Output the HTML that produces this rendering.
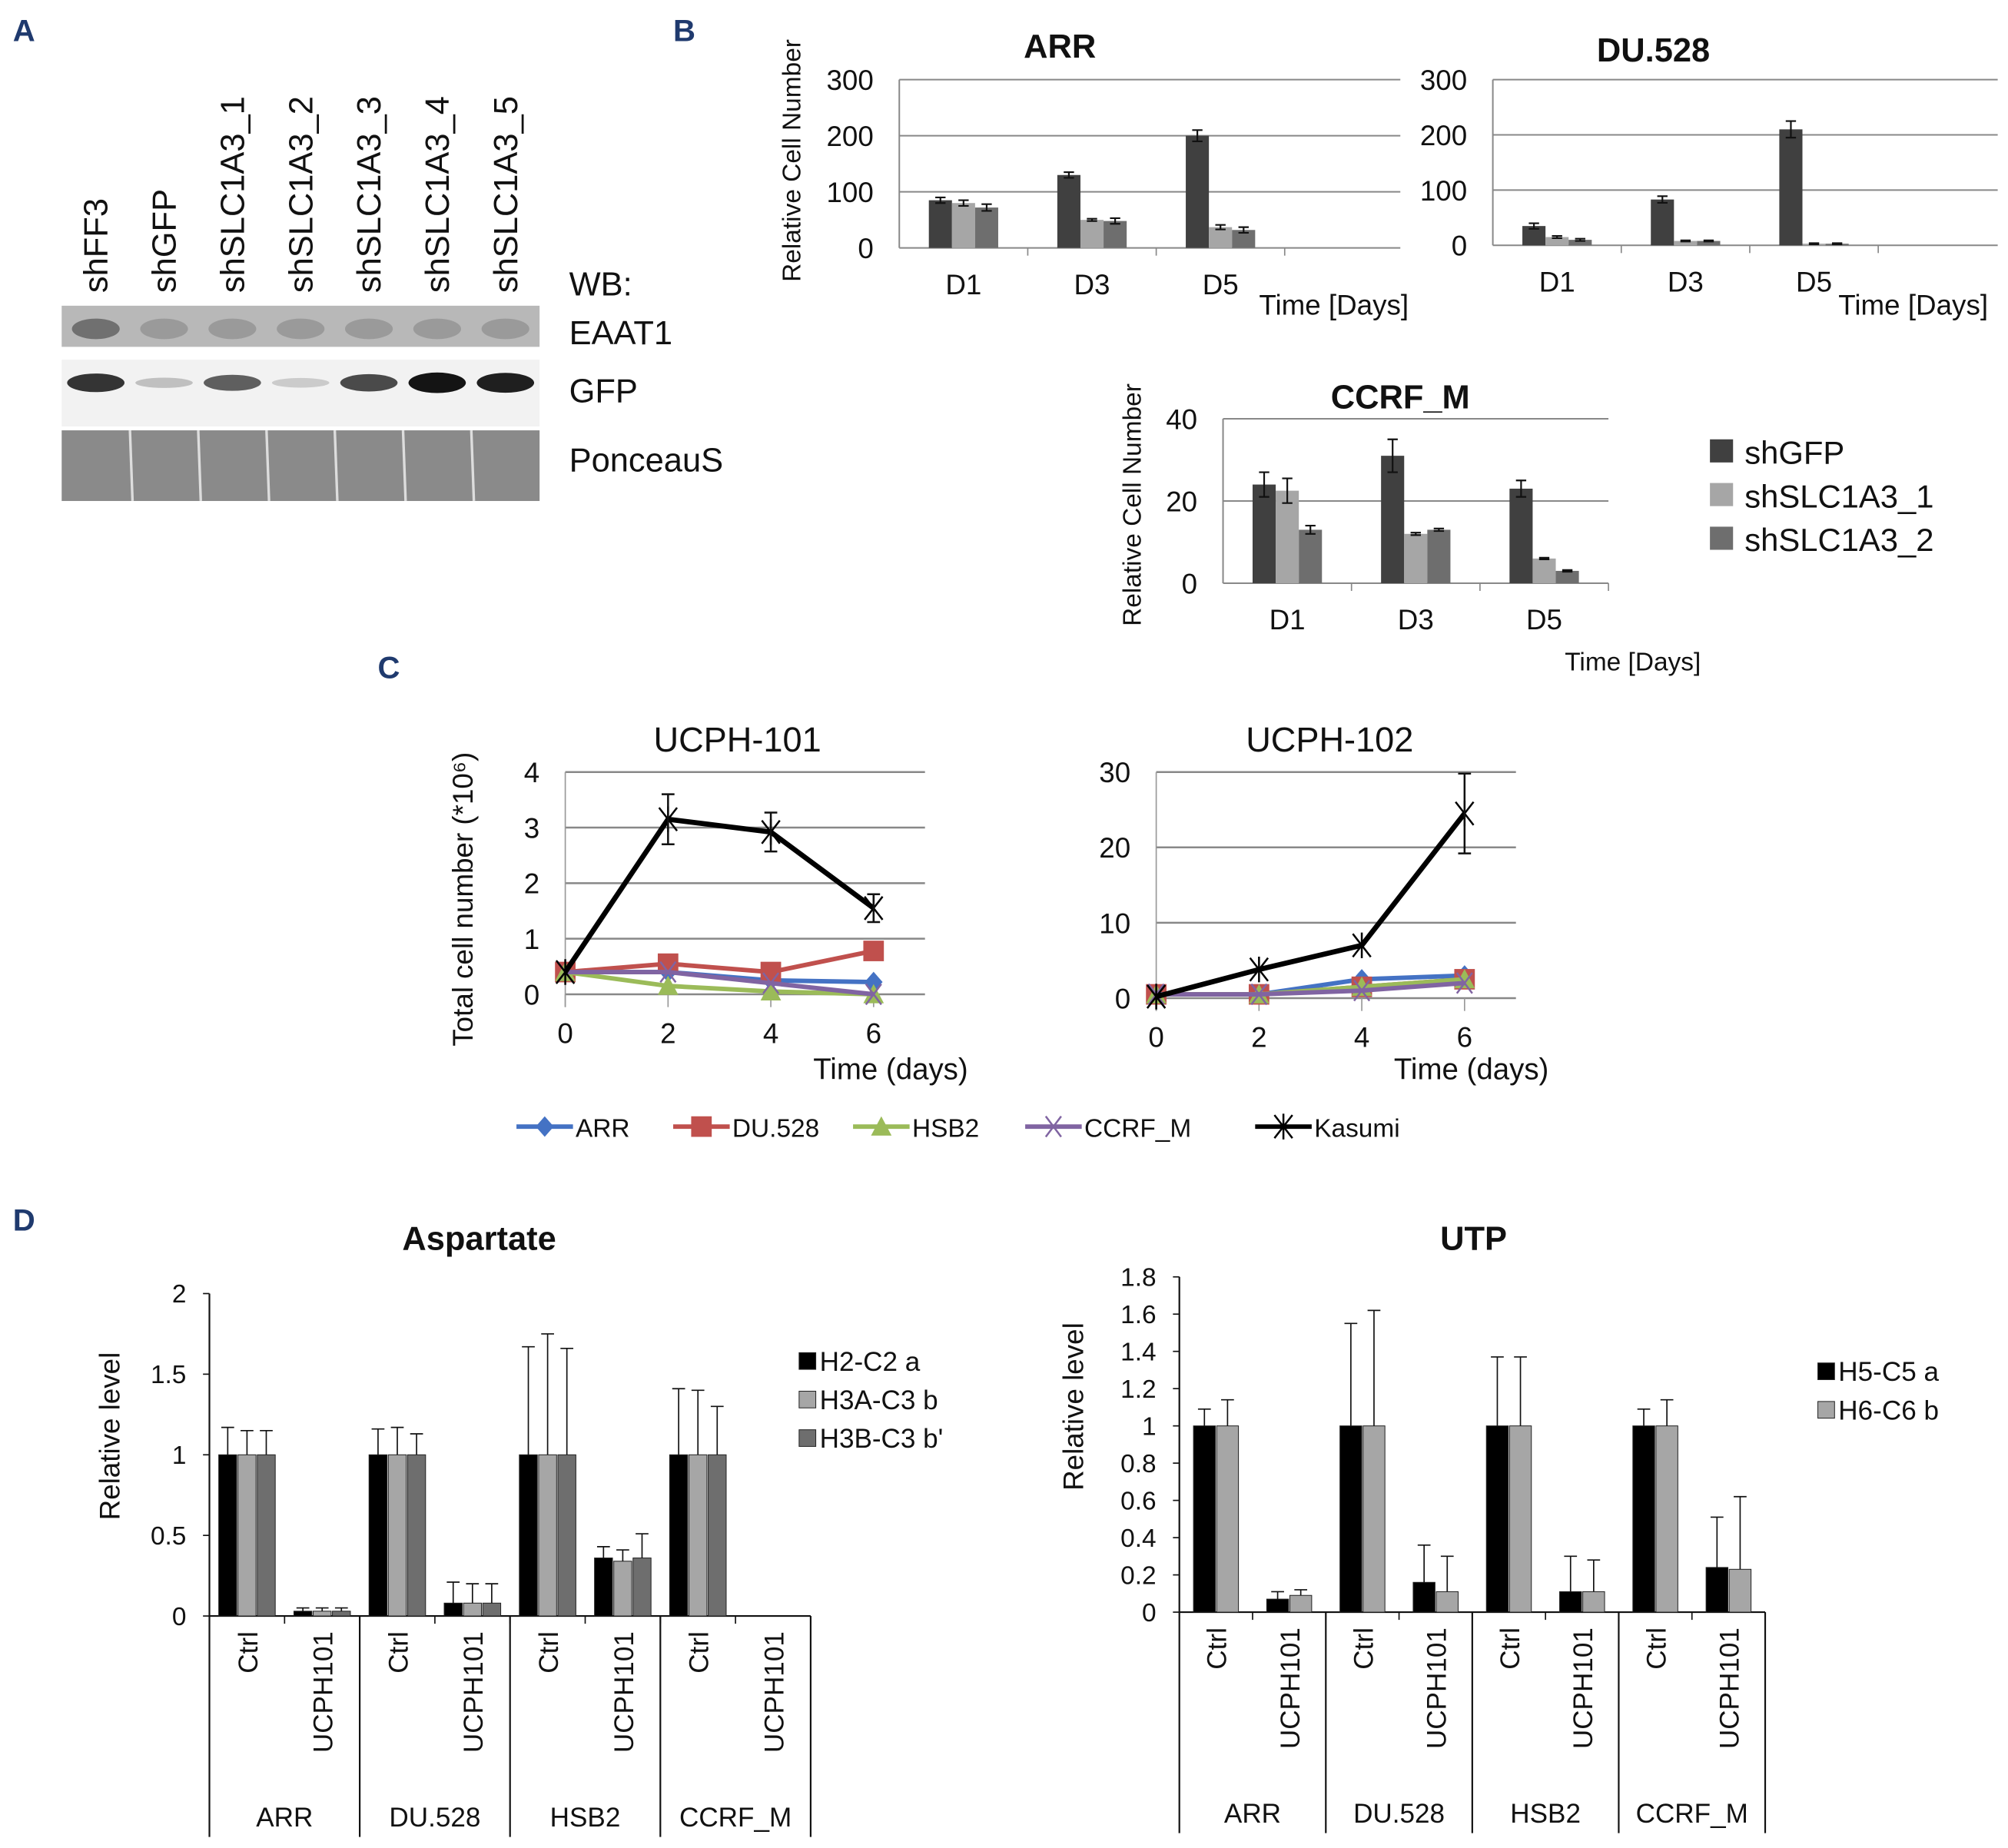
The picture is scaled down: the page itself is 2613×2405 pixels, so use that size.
<!DOCTYPE html>
<html><head><meta charset="utf-8"><style>
html,body{margin:0;padding:0;background:#fff}
svg{display:block}
text{font-family:"Liberation Sans",sans-serif;fill:#111}
</style></head><body>
<svg id="fig" width="2613" height="2405" viewBox="0 0 1563 1438.6" xmlns="http://www.w3.org/2000/svg">
<g font-weight="bold">
<text x="10" y="32" font-size="24" style="fill:#1f3a6e">A</text>
<text x="524" y="32" font-size="24" style="fill:#1f3a6e">B</text>
<text x="294" y="528" font-size="24" style="fill:#1f3a6e">C</text>
<text x="10" y="958" font-size="24" style="fill:#1f3a6e">D</text>
</g>
<g id="blot"></g>
<g id="panelB"></g>
<g id="panelC"></g>
<g id="panelD"></g>
</svg>
<script>
// ---- Panel A data
const laneLabels=["shFF3","shGFP","shSLC1A3_1","shSLC1A3_2","shSLC1A3_3","shSLC1A3_4","shSLC1A3_5"];
const gfpIntensity=[0.85,0.2,0.65,0.15,0.75,1,0.95];
// ---- Panel B data
const bCats=["D1","D3","D5"];
const bSeries=["shGFP","shSLC1A3_1","shSLC1A3_2"];
const arrVals=[[85,80,72],[130,50,48],[200,37,32]];
const arrErr=[[5,5,6],[5,2,5],[10,4,5]];
const duVals=[[35,15,10],[83,8,8],[210,3,3]];
const duErr=[[5,2,2],[6,1,1],[15,1,1]];
const ccrfVals=[[24,22.5,13],[31,12,13],[23,6,3]];
const ccrfErr=[[3,3,1],[4,0.3,0.3],[2,0.2,0.2]];
const bTicks300=[0,100,200,300];
const bTicks40=[0,20,40];
// ---- Panel C data
const cDays=[0,2,4,6];
const cNames=["ARR","DU.528","HSB2","CCRF_M","Kasumi"];
const c101=[[0.4,0.4,0.25,0.22],[0.4,0.55,0.4,0.78],[0.4,0.15,0.05,0],[0.4,0.4,0.2,0],[0.4,3.15,2.92,1.55]];
const c101KasErr=[0,0.45,0.35,0.25];
const c102=[[0.5,0.5,2.5,3],[0.5,0.5,1.5,2.5],[0.5,0.5,1.5,2.5],[0.5,0.5,1,2],[0.2,3.8,7,24.5]];
const c102KasErr=[0,0,0,5.3];
const c101Ticks=[0,1,2,3,4];
const c102Ticks=[0,10,20,30];
// ---- Panel D data
const dGroups=["ARR","DU.528","HSB2","CCRF_M"];
const dSub=["Ctrl","UCPH101"];
const aspSeries=["H2-C2 a","H3A-C3 b","H3B-C3 b'"];
const aspVals=[[[1,1,1],[0.03,0.03,0.03]],[[1,1,1],[0.08,0.08,0.08]],[[1,1,1],[0.36,0.34,0.36]],[[1,1,1],[0,0,0]]];
const aspErr=[[[0.17,0.15,0.15],[0.02,0.02,0.02]],[[0.16,0.17,0.13],[0.13,0.12,0.12]],[[0.67,0.75,0.66],[0.07,0.07,0.15]],[[0.41,0.4,0.3],[0,0,0]]];
const aspTicks=[0,0.5,1,1.5,2];
const utpSeries=["H5-C5 a","H6-C6 b"];
const utpVals=[[[1,1],[0.07,0.09]],[[1,1],[0.16,0.11]],[[1,1],[0.11,0.11]],[[1,1],[0.24,0.23]]];
const utpErr=[[[0.09,0.14],[0.04,0.03]],[[0.55,0.62],[0.2,0.19]],[[0.37,0.37],[0.19,0.17]],[[0.09,0.14],[0.27,0.39]]];
const utpTicks=[0,0.2,0.4,0.6,0.8,1,1.2,1.4,1.6,1.8];

const NS="http://www.w3.org/2000/svg";
function mk(p,tag,at,txt){const e=document.createElementNS(NS,tag);for(const k in at)e.setAttribute(k,at[k]);if(txt!==undefined)e.textContent=txt;p.appendChild(e);return e;}

// ---- Panel A
(function(){
const g=document.getElementById('blot');
const x0=48,x1=420,lw=(x1-x0)/laneLabels.length;
let s=mk(g,'rect',{x:x0,y:238,width:x1-x0,height:32,fill:'#b8b8b8'});

s=mk(g,'rect',{x:x0,y:280,width:x1-x0,height:52,fill:'#f2f2f2'});

s=mk(g,'rect',{x:x0,y:335,width:x1-x0,height:55,fill:'#8a8a8a'});

laneLabels.forEach((l,i)=>{
 const cx=x0+lw*(i+0.5);
 const t=mk(g,'text',{x:0,y:0,'font-size':26,transform:`translate(${cx+9},228) rotate(-90)`},l);
 
 const v=gfpIntensity[i];const c=Math.round(235-215*v);
 const b=mk(g,'ellipse',{cx:cx,cy:298,rx:lw*0.42,ry:3+5*v,fill:`rgb(${c},${c},${c})`});
 
 const e=mk(g,'ellipse',{cx:cx,cy:256,rx:lw*0.35,ry:8,fill:i==0?'#707070':'#9a9a9a'});
 
 if(i>0){const ln=mk(g,'line',{x1:x0+lw*i,x2:x0+lw*i+2,y1:335,y2:390,stroke:'#ddd','stroke-width':2});
 }
});
[["WB:",443,230],["EAAT1",443,268],["GFP",443,313],["PonceauS",443,367]].forEach(a=>{
 const t=mk(g,'text',{x:a[1],y:a[2],'font-size':26},a[0]);
 });
})();

// ---- Panel B
const bColors=['#404040','#a6a6a6','#6e6e6e'];
function barChartB(g,o){
 const sy=v=>o.y0-(v/o.ymax)*(o.y0-o.ytop);
 o.ticks.forEach(t=>{
  const l=mk(g,'line',{x1:o.x0,x2:o.x1,y1:sy(t),y2:sy(t),stroke:'#888','stroke-width':1.2});
  
  const tx=mk(g,'text',{x:o.x0-20,y:sy(t)+8,'font-size':22,'text-anchor':'end'},t);
  
 });
 const ax=mk(g,'line',{x1:o.x0,x2:o.x0,y1:o.ytop,y2:o.y0,stroke:'#888','stroke-width':1.2});
 
 const cw=o.cw;
 bCats.forEach((c,i)=>{
  const cx=o.x0+cw*(i+0.5);
  const tk=mk(g,'line',{x1:o.x0+cw*(i+1),x2:o.x0+cw*(i+1),y1:o.y0,y2:o.y0+6,stroke:'#888'});
  
  const t=mk(g,'text',{x:cx,y:o.y0+36,'font-size':22,'text-anchor':'middle'},c);
  
  o.vals[i].forEach((v,j)=>{
   const bx=cx-27+j*18;
   const r=mk(g,'rect',{x:bx,y:sy(v),width:18,height:o.y0-sy(v),fill:bColors[j]});
   
   const e=o.err[i][j],xm=bx+9;
   const p=mk(g,'path',{d:`M${xm},${sy(v+e)}V${sy(v-e)}M${xm-4},${sy(v+e)}H${xm+4}M${xm-4},${sy(v-e)}H${xm+4}`,stroke:'#111','stroke-width':1.3,fill:'none'});
   
  });
 });
 const ti=mk(g,'text',{x:o.tx,y:o.ty,'font-size':26,'font-weight':'bold','text-anchor':'middle'},o.title);
 
 const xt=mk(g,'text',{x:o.xlx,y:o.xly,'font-size':o.xfs||22},'Time [Days]');
 
 if(o.ylab){const yt=mk(g,'text',{x:0,y:0,'font-size':20,'text-anchor':'middle',transform:`translate(${o.ylx},${o.yly}) rotate(-90)`},'Relative Cell Number');
 }
}
(function(){
const P=document.getElementById('panelB');
const g1=mk(P,'g',{});
barChartB(g1,{x0:700,x1:1090,cw:100,y0:193,ytop:62,ymax:300,ticks:bTicks300,vals:arrVals,err:arrErr,title:'ARR',tx:825,ty:45,xlx:980,xly:245,ylab:true,ylx:623,yly:125});
const g2=mk(P,'g',{});
barChartB(g2,{x0:1162,x1:1555,cw:100,y0:191,ytop:62,ymax:300,ticks:bTicks300,vals:duVals,err:duErr,title:'DU.528',tx:1287,ty:48,xlx:1431,xly:245});
const g3=mk(P,'g',{});
barChartB(g3,{x0:952,x1:1252,cw:100,y0:454,ytop:326,ymax:40,ticks:bTicks40,vals:ccrfVals,err:ccrfErr,title:'CCRF_M',tx:1090,ty:318,xlx:1218,xly:522,xfs:20,ylab:true,ylx:888,yly:393});
bSeries.forEach((s,j)=>{
 const r=mk(P,'rect',{x:1331,y:342+j*34,width:18,height:18,fill:bColors[j]});
 
 const t=mk(P,'text',{x:1358,y:361+j*34,'font-size':25},s);
 
});
})();

// ---- Panel C
const cColors=['#4472c4','#c0504d','#9bbb59','#8064a2','#000000'];
function marker(g,k,x,y){
 const c=cColors[k];let e;
 if(k==0)e=mk(g,'path',{d:`M${x},${y-8}L${x+7},${y}L${x},${y+8}L${x-7},${y}Z`,fill:c});
 else if(k==1)e=mk(g,'rect',{x:x-8,y:y-8,width:16,height:16,fill:c});
 else if(k==2)e=mk(g,'path',{d:`M${x},${y-8}L${x+8},${y+7}L${x-8},${y+7}Z`,fill:c});
 else if(k==3)e=mk(g,'path',{d:`M${x-6},${y-8}L${x+6},${y+8}M${x+6},${y-8}L${x-6},${y+8}`,stroke:c,'stroke-width':1.5});
 else e=mk(g,'path',{d:`M${x-7},${y-9}L${x+7},${y+9}M${x+7},${y-9}L${x-7},${y+9}M${x},${y-10}V${y+10}`,stroke:c,'stroke-width':1.5});
 
}
function lineChart(g,o){
 const sx=d=>o.x0+(d/6)*(o.x6-o.x0), sy=v=>o.y0-(v/o.ymax)*(o.y0-o.ytop);
 o.ticks.forEach(t=>{
  const l=mk(g,'line',{x1:o.x0,x2:o.xr,y1:sy(t),y2:sy(t),stroke:'#888','stroke-width':1.5});
  
  const tx=mk(g,'text',{x:o.x0-20,y:sy(t)+8,'font-size':22,'text-anchor':'end'},t);
  
 });
 const ax=mk(g,'line',{x1:o.x0,x2:o.x0,y1:o.ytop,y2:o.y0+10,stroke:'#999'});
 
 cDays.forEach(d=>{
  const tk=mk(g,'line',{x1:sx(d),x2:sx(d),y1:o.y0,y2:o.y0+10,stroke:'#999'});
  
  const t=mk(g,'text',{x:sx(d),y:o.y0+38,'font-size':22,'text-anchor':'middle'},d);
  
 });
 o.data.forEach((ser,k)=>{
  const pl=mk(g,'polyline',{points:ser.map((v,i)=>sx(cDays[i])+','+sy(v)).join(' '),fill:'none',stroke:cColors[k],'stroke-width':k==4?4:3.5});
  
  ser.forEach((v,i)=>marker(g,k,sx(cDays[i]),sy(v)));
 });
 o.err.forEach((e,i)=>{ if(!e)return; const v=o.data[4][i],x=sx(cDays[i]);
  const p=mk(g,'path',{d:`M${x},${sy(v+e)}V${sy(v-e)}M${x-5},${sy(v+e)}H${x+5}M${x-5},${sy(v-e)}H${x+5}`,stroke:'#111','stroke-width':1.5,fill:'none'});
  });
 const ti=mk(g,'text',{x:o.tx,y:585,'font-size':27,'text-anchor':'middle'},o.title);
 
 const xt=mk(g,'text',{x:o.xlx,y:840,'font-size':23},'Time (days)');
 
}
(function(){
const P=document.getElementById('panelC');
const g1=mk(P,'g',{});
lineChart(g1,{x0:440,x6:680,xr:720,y0:774,ytop:601,ymax:4,ticks:c101Ticks,data:c101,err:c101KasErr,title:'UCPH-101',tx:574,xlx:633});
const g2=mk(P,'g',{});
lineChart(g2,{x0:900,x6:1140,xr:1180,y0:777,ytop:601,ymax:30,ticks:c102Ticks,data:c102,err:c102KasErr,title:'UCPH-102',tx:1035,xlx:1085});
const yt=mk(P,'text',{x:0,y:0,'font-size':22,'text-anchor':'middle',transform:'translate(368,700) rotate(-90)'},'Total cell number (*10⁶)');

const lx=[402,524,664,798,977];
cNames.forEach((n,k)=>{
 const l=mk(P,'line',{x1:lx[k],x2:lx[k]+44,y1:877,y2:877,stroke:cColors[k],'stroke-width':3.5});
 
 marker(P,k,lx[k]+22,877);
 const t=mk(P,'text',{x:lx[k]+46,y:885,'font-size':20},n);
 
});
})();

// ---- Panel D
function groupedChart(g,o){
 const sy=v=>o.y0-(v/o.ymax)*(o.y0-o.ytop);
 o.ticks.forEach(t=>{
  const tx=mk(g,'text',{x:o.x0-18,y:sy(t)+7,'font-size':20,'text-anchor':'end'},t);
  
  const tk=mk(g,'line',{x1:o.x0-5,x2:o.x0,y1:sy(t),y2:sy(t),stroke:'#111'});
  
 });
 const ax=mk(g,'path',{d:`M${o.x0},${o.ytop}V${o.y0}H${o.x1}`,stroke:'#111','stroke-width':1.3,fill:'none'});
 
 const gw=(o.x1-o.x0)/dGroups.length,nb=o.series.length;
 dGroups.forEach((gn,gi)=>{
  const gx=o.x0+gw*gi;
  const sep=mk(g,'line',{x1:gx+gw,x2:gx+gw,y1:o.y0,y2:o.ybot,stroke:'#111','stroke-width':1.3});
  
  if(gi==0){const s0=mk(g,'line',{x1:gx,x2:gx,y1:o.y0,y2:o.ybot,stroke:'#111','stroke-width':1.3});
  }
  const t=mk(g,'text',{x:gx+gw/2,y:o.ybot-8,'font-size':21,'text-anchor':'middle'},gn);
  
  dSub.forEach((sb,si)=>{
   const cx=gx+gw*(si+0.5)/2;
   const tk=mk(g,'line',{x1:gx+gw*(si+1)/2,x2:gx+gw*(si+1)/2,y1:o.y0,y2:o.y0+6,stroke:'#111'});
   
   const lt=mk(g,'text',{x:0,y:0,'font-size':21,transform:`translate(${cx+8},${o.y0+12}) rotate(-90)`,'text-anchor':'end'},sb);
   
   o.vals[gi][si].forEach((v,j)=>{
    const bx=cx-nb*o.bw/2+j*o.bw;
    const r=mk(g,'rect',{x:bx+0.5,y:sy(v),width:o.bw-1,height:o.y0-sy(v),fill:o.colors[j],stroke:'#222','stroke-width':0.6});
    
    const e=o.err[gi][si][j],xm=bx+o.bw/2;
    if(e>0){const p=mk(g,'path',{d:`M${xm},${sy(v)}V${sy(v+e)}M${xm-5},${sy(v+e)}H${xm+5}`,stroke:'#111','stroke-width':1,fill:'none'});
    }
   });
  });
 });
 const ti=mk(g,'text',{x:o.tx,y:973,'font-size':26,'font-weight':'bold','text-anchor':'middle'},o.title);
 
 const yt=mk(g,'text',{x:0,y:0,'font-size':22,'text-anchor':'middle',transform:`translate(${o.ylx},${o.yly}) rotate(-90)`},'Relative level');
 
 o.series.forEach((s,j)=>{
  const r=mk(g,'rect',{x:o.lx,y:o.ly+j*30,width:13,height:13,fill:o.colors[j],stroke:'#222','stroke-width':0.6});
  
  const t=mk(g,'text',{x:o.lx+16,y:o.ly+j*30+14,'font-size':21},s);
  
 });
}
(function(){
const P=document.getElementById('panelD');
const g1=mk(P,'g',{});
groupedChart(g1,{x0:163,x1:631,y0:1258,ytop:1007,ybot:1430,ymax:2,ticks:aspTicks,series:aspSeries,vals:aspVals,err:aspErr,colors:['#000','#a6a6a6','#6e6e6e'],bw:15,title:'Aspartate',tx:373,ylx:93,yly:1118,lx:622,ly:1053});
const g2=mk(P,'g',{});
groupedChart(g2,{x0:918,x1:1374,y0:1255,ytop:994,ybot:1427,ymax:1.8,ticks:utpTicks,series:utpSeries,vals:utpVals,err:utpErr,colors:['#000','#a6a6a6'],bw:18,title:'UTP',tx:1147,ylx:843,yly:1095,lx:1415,ly:1061});
})();
</script>
</body></html>
